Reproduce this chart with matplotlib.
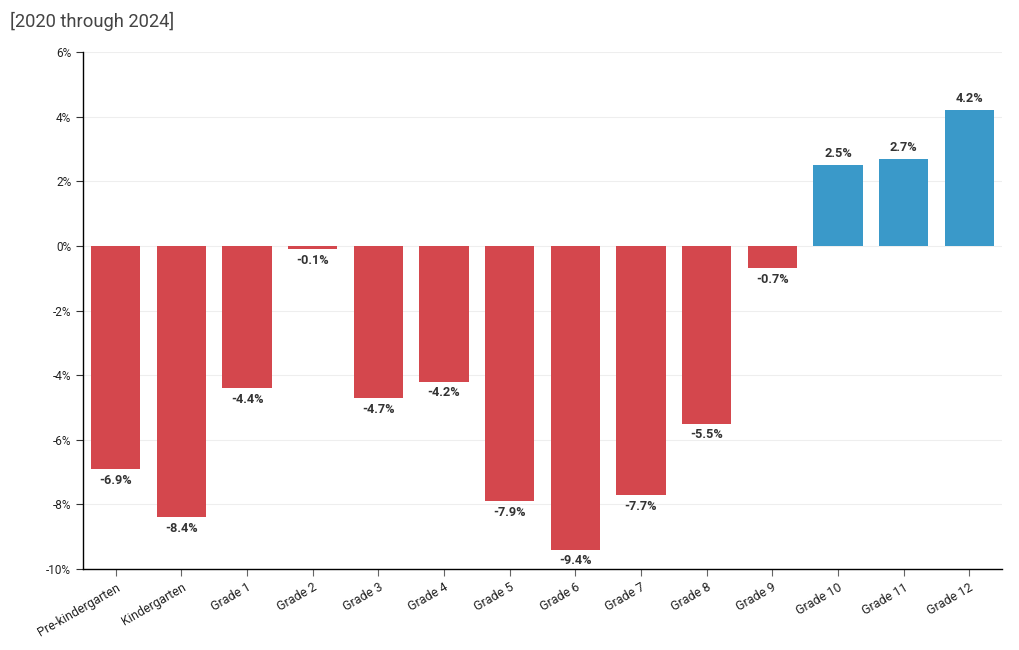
import matplotlib
matplotlib.use("Agg")
import matplotlib.pyplot as plt
from matplotlib.ticker import FuncFormatter

plt.rcParams['font.family'] = ['Roboto', 'DejaVu Sans']

categories = ["Pre-kindergarten", "Kindergarten", "Grade 1", "Grade 2", "Grade 3", "Grade 4",
              "Grade 5", "Grade 6", "Grade 7", "Grade 8", "Grade 9", "Grade 10", "Grade 11", "Grade 12"]
values = [-6.9, -8.4, -4.4, -0.1, -4.7, -4.2, -7.9, -9.4, -7.7, -5.5, -0.7, 2.5, 2.7, 4.2]
yticks = [-10, -8, -6, -4, -2, 0, 2, 4, 6]
title = "[2020 through 2024]"

RED = "#d4474d"
BLUE = "#3a99c9"

fig = plt.figure(figsize=(10.2, 6.5), dpi=100)
ax = fig.add_axes([83/1020, 1-569/650, (1002-83)/1020, (569-52)/650])

x = list(range(len(categories)))
colors = [BLUE if v >= 0 else RED for v in values]
ax.bar(x, values, width=0.75, color=colors, zorder=2)

for xi, v in zip(x, values):
    if v >= 0:
        ax.annotate(f"{v:.1f}%", (xi, v), xytext=(0, 3.5), textcoords="offset points",
                    ha="center", va="bottom", fontsize=9.2, fontweight="bold", color="#333333")
    else:
        ax.annotate(f"{v:.1f}%", (xi, v), xytext=(0, -3.5), textcoords="offset points",
                    ha="center", va="top", fontsize=9.2, fontweight="bold", color="#333333")

ax.set_xlim(-0.5, len(categories) - 0.5)
ax.set_ylim(-10, 6)
ax.set_yticks(yticks)
ax.yaxis.set_major_formatter(FuncFormatter(lambda v, p: f"{v:.0f}%"))
ax.set_xticks(x)
ax.set_xticklabels(categories, rotation=30, ha="right", rotation_mode="anchor", fontsize=9, color="#222222")
ax.tick_params(axis="y", labelsize=8.5, length=5, color="#333333", labelcolor="#222222")
ax.tick_params(axis="x", length=5, color="#666666")
ax.grid(axis="y", color="#eeeeee", linewidth=0.8, zorder=0)
ax.set_axisbelow(True)
for s in ["top", "right"]:
    ax.spines[s].set_visible(False)
for s in ["left", "bottom"]:
    ax.spines[s].set_color("#000000")
    ax.spines[s].set_linewidth(1.0)

fig.text(10/1020, 1-21/650, title, fontsize=13.2, color="#444444", ha="left", va="center")

fig.savefig("out.png", dpi=100)
